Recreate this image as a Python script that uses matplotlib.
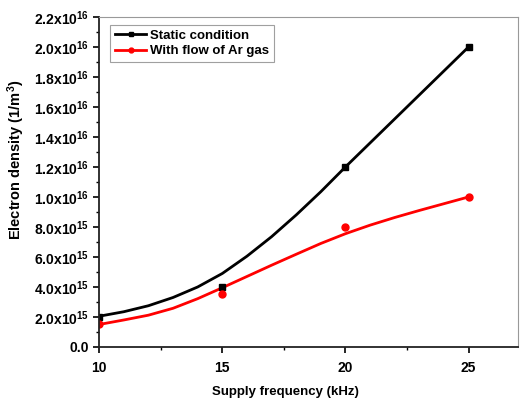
import matplotlib
matplotlib.use("Agg")
import matplotlib.pyplot as plt
import numpy as np

plt.rcParams['font.family'] = 'Liberation Sans'
plt.rcParams['font.weight'] = 'bold'
plt.rcParams['axes.labelweight'] = 'bold'
plt.rcParams['mathtext.fontset'] = 'custom'
plt.rcParams['mathtext.rm'] = 'Liberation Sans:bold'
plt.rcParams['mathtext.it'] = 'Liberation Sans:bold'
plt.rcParams['mathtext.bf'] = 'Liberation Sans:bold'

# measured points
freq = [10, 15, 20, 25]
static = [2.0e15, 4.0e15, 1.2e16, 2.0e16]
ar_flow = [1.5e15, 3.5e15, 8.0e15, 1.0e16]

# fitted curves (1 kHz steps)
fit_freq = [10, 11, 12, 13, 14, 15, 16, 17, 18, 19, 20, 21, 22, 23, 24, 25]
fit_static = [2.05e15, 2.35e15, 2.75e15, 3.3e15, 4.0e15, 4.9e15, 6.05e15, 7.35e15,
              8.8e15, 1.035e16, 1.2e16, 1.36e16, 1.52e16, 1.68e16, 1.84e16, 2.0e16]
fit_ar = [1.5e15, 1.8e15, 2.12e15, 2.58e15, 3.22e15, 3.95e15, 4.7e15, 5.45e15,
          6.18e15, 6.9e15, 7.55e15, 8.12e15, 8.63e15, 9.1e15, 9.55e15, 1.0e16]

yticks = [0, 2e15, 4e15, 6e15, 8e15, 1e16, 1.2e16, 1.4e16, 1.6e16, 1.8e16, 2.0e16, 2.2e16]
ytick_labels = ['0.0', '2.0x10$^{15}$', '4.0x10$^{15}$', '6.0x10$^{15}$', '8.0x10$^{15}$',
                '1.0x10$^{16}$', '1.2x10$^{16}$', '1.4x10$^{16}$', '1.6x10$^{16}$',
                '1.8x10$^{16}$', '2.0x10$^{16}$', '2.2x10$^{16}$']
xticks = [10, 15, 20, 25]

fig = plt.figure(figsize=(5.22, 4.03), dpi=100)
ax = fig.add_axes([0.19, 0.139, 0.802, 0.819])

ax.plot(fit_freq, fit_static, color='black', lw=2)
ax.plot(fit_freq, fit_ar, color='red', lw=2)
ax.plot(freq, static, 's', color='black', ms=4.5)
ax.plot(freq, ar_flow, 'o', color='red', ms=5)

# legend handles
ax.plot([], [], '-s', color='black', lw=2, ms=3.5, label='Static condition')
ax.plot([], [], '-o', color='red', lw=2, ms=3.5, label='With flow of Ar gas')
leg = ax.legend(loc='upper left', bbox_to_anchor=(0.026, 0.975), fontsize=9.5,
                frameon=True, fancybox=False, edgecolor='#888888', handlelength=2.4,
                borderpad=0.35, labelspacing=0.22, handletextpad=0.3, borderaxespad=0)
leg.get_frame().set_linewidth(0.8)

ax.set_xlim(10, 27)
ax.set_ylim(0, 2.2e16)
ax.set_xticks(xticks)
ax.set_xticks([12.5, 17.5, 22.5], minor=True)
ax.set_yticks(yticks)
ax.set_yticklabels(ytick_labels)
ax.set_yticks(np.arange(1e15, 2.2e16, 2e15), minor=True)

ax.tick_params(which='major', direction='out', length=4, width=1.2, labelsize=10, pad=3)
ax.tick_params(which='minor', direction='out', length=2.5, width=1)
ax.tick_params(axis='x', pad=6)

for s in ['left', 'bottom']:
    ax.spines[s].set_linewidth(1.3)
    ax.spines[s].set_color('#222222')
for s in ['top', 'right']:
    ax.spines[s].set_linewidth(0.8)
    ax.spines[s].set_color('#999999')

ax.set_xlabel('Supply frequency (kHz)', fontsize=9.5)
ax.set_ylabel('Electron density (1/m$^{3}$)', fontsize=10.5)
ax.xaxis.set_label_coords(0.444, -0.118)
ax.yaxis.set_label_coords(-0.172, 0.567)

fig.savefig('out.png', dpi=100)
